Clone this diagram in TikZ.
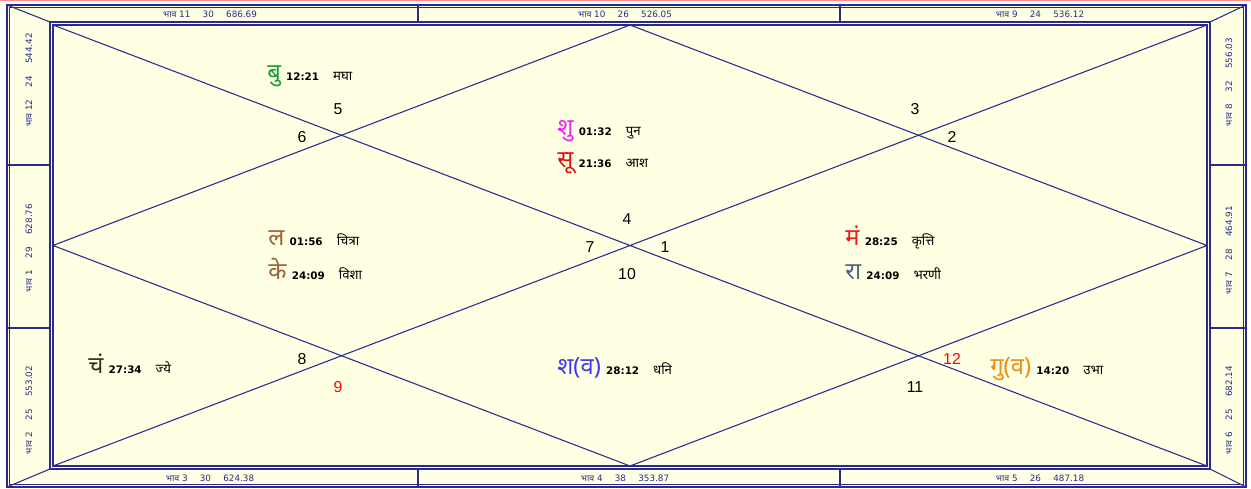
\documentclass[tikz,border=0pt]{standalone}
\usepackage{fontspec}
\setmainfont{DejaVu Sans}
\newfontfamily\deva[Script=Devanagari]{Noto Sans}
\newfontfamily\arial{Liberation Sans}
\definecolor{rekha}{HTML}{2A2A8A}
\definecolor{patra}{HTML}{FFFFE3}
\definecolor{budh}{HTML}{1E9A32}
\definecolor{shukra}{HTML}{F020F0}
\definecolor{surya}{HTML}{E01010}
\definecolor{lagna}{HTML}{A0603A}
\definecolor{mangal}{HTML}{F01818}
\definecolor{rahu}{HTML}{556080}
\definecolor{chandra}{HTML}{303018}
\definecolor{shani}{HTML}{3C3CF0}
\definecolor{guru}{HTML}{F08C18}
\newcommand{\graha}[4]{{\color{#1}\fontsize{13.5}{14}\selectfont\deva #2}\hspace{3pt}%
  {\fontsize{5.9}{6}\selectfont\bfseries #3}\hspace{8pt}{\fontsize{7.5}{8}\selectfont\deva\bfseries #4}}
\newcommand{\bhavtxt}[3]{{\deva भाव} #1\hspace{7pt}#2\hspace{7pt}#3}

\begin{document}
\begin{tikzpicture}[x=0.02cm,y=-0.02cm,
  rekh/.style={rekha,line width=0.6pt},
  bhav/.style={text=rekha,font=\fontsize{5}{6}\selectfont,inner sep=0pt},
  ank/.style={font=\arial\fontsize{9}{10}\selectfont,inner sep=0pt},
  grh/.style={anchor=base west,inner sep=0pt}]
\useasboundingbox (0,0) rectangle (1251,489);
\fill[patra] (7,5) rectangle (1246,487);
\draw[red!45,line width=0.5pt] (0,0.8) -- (1251,0.8);
% frame corners
\coordinate (o1) at (7,5);   \coordinate (o2) at (1246,5);
\coordinate (o3) at (1246,487); \coordinate (o4) at (7,487);
\coordinate (s1) at (50,22);  \coordinate (s2) at (1210,22);
\coordinate (s3) at (1210,469); \coordinate (s4) at (50,469);
\coordinate (c1) at (53,25);  \coordinate (c2) at (1207,25);
\coordinate (c3) at (1207,466); \coordinate (c4) at (53,466);
\coordinate (t) at (630,25); \coordinate (r) at (1207,245.5);
\coordinate (b) at (630,466); \coordinate (l) at (53,245.5);
\draw[rekh] (o1) rectangle (o3);
\draw[rekh] ([shift={(2.5,2.5)}]o1) rectangle ([shift={(-2.5,-2.5)}]o3);
\draw[rekh] (s1) rectangle (s3);
\draw[rekh] (c1) rectangle (c3);
\draw[rekh] (o1) -- (s1) (o2) -- (s2) (o3) -- (s3) (o4) -- (s4);
\foreach \x in {418,840} {\draw[rekh] (\x,5) -- (\x,22) (\x,469) -- (\x,487);}
\foreach \y in {165,328} {\draw[rekh] (7,\y) -- (50,\y) (1210,\y) -- (1246,\y);}
% chart
\draw[rekh] (c1) -- (c3) (c2) -- (c4);
\draw[rekh] (t) -- (r) -- (b) -- (l) -- cycle;
% bhav strips
\node[bhav] (bh11) at (210,14) {\bhavtxt{11}{30}{686.69}};
\node[bhav] (bh10) at (625,14) {\bhavtxt{10}{26}{526.05}};
\node[bhav] (bh9) at (1040,14) {\bhavtxt{9}{24}{536.12}};
\node[bhav] (bh3) at (210,478) {\bhavtxt{3}{30}{624.38}};
\node[bhav] (bh4) at (625,478) {\bhavtxt{4}{38}{353.87}};
\node[bhav] (bh5) at (1040,478) {\bhavtxt{5}{26}{487.18}};
\node[bhav,rotate=90] (bh12) at (29,80) {\bhavtxt{12}{24}{544.42}};
\node[bhav,rotate=90] (bh1) at (29,248) {\bhavtxt{1}{29}{628.76}};
\node[bhav,rotate=90] (bh2) at (29,410) {\bhavtxt{2}{25}{553.02}};
\node[bhav,rotate=90] (bh8) at (1229,82) {\bhavtxt{8}{32}{556.03}};
\node[bhav,rotate=90] (bh7) at (1229,250) {\bhavtxt{7}{28}{464.91}};
\node[bhav,rotate=90] (bh6) at (1229,410) {\bhavtxt{6}{25}{682.14}};
% rashi numbers
\node[ank] (n5) at (338,109) {5};
\node[ank] (n6) at (302,137) {6};
\node[ank] (n3) at (915,109) {3};
\node[ank] (n2) at (952,137) {2};
\node[ank] (n4) at (627,219) {4};
\node[ank] (n7) at (590,247) {7};
\node[ank] (n1) at (665,247) {1};
\node[ank] (n10) at (627,274) {10};
\node[ank] (n8) at (302,359) {8};
\node[ank,text=red] (n9) at (338,387) {9};
\node[ank,text=red] (n12) at (952,359) {12};
\node[ank] (n11) at (915,387) {11};
% grahas
\node[grh] (bu) at (267,81) {\graha{budh}{बु}{12:21}{मघा}};
\node[grh] (shu) at (557,136) {\graha{shukra}{शु}{01:32}{पुन}};
\node[grh] (su) at (557,168) {\graha{surya}{सू}{21:36}{आश}};
\node[grh] (la) at (268,246) {\graha{lagna}{ल}{01:56}{चित्रा}};
\node[grh] (ke) at (268,280) {\graha{lagna}{के}{24:09}{विशा}};
\node[grh] (ma) at (845,246) {\graha{mangal}{मं}{28:25}{कृत्ति}};
\node[grh] (ra) at (845,280) {\graha{rahu}{रा}{24:09}{भरणी}};
\node[grh] (cha) at (88,374) {\graha{chandra}{चं}{27:34}{ज्ये}};
\node[grh] (sha) at (557,375) {\graha{shani}{श(व)}{28:12}{धनि}};
\node[grh] (gu) at (990,375) {\graha{guru}{गु(व)}{14:20}{उभा}};
\end{tikzpicture}
\end{document}
